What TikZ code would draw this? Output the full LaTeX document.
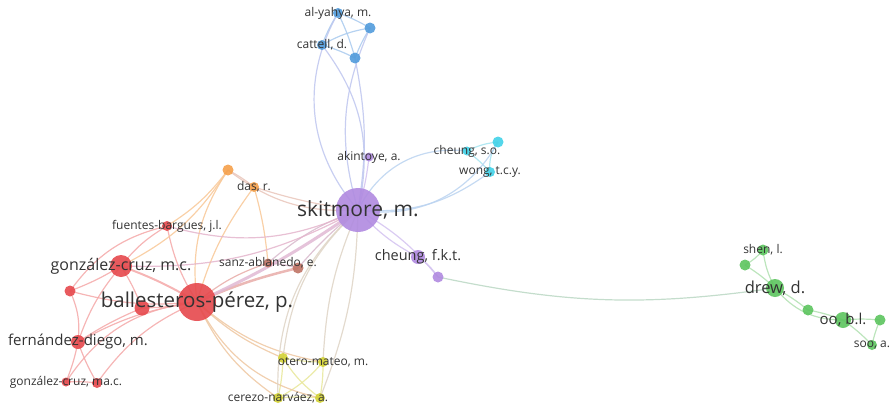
\documentclass[tikz,border=0pt]{standalone}
\usepackage{fontspec}
\setmainfont{Open Sans}
\usetikzlibrary{backgrounds}
\definecolor{txt}{HTML}{333333}
\definecolor{cblue}{HTML}{519BDB}
\definecolor{ccyan}{HTML}{41D2E8}
\definecolor{cpur}{HTML}{B08AE0}
\definecolor{cred}{HTML}{E6484C}
\definecolor{corg}{HTML}{F5A04A}
\definecolor{cbrn}{HTML}{BF7365}
\definecolor{cyel}{HTML}{D3D235}
\definecolor{cgrn}{HTML}{5CC45E}
\definecolor{eblue}{HTML}{A9CAEE}
\definecolor{ecyan}{HTML}{A3E4F0}
\definecolor{epur}{HTML}{D3C2F0}
\definecolor{ered}{HTML}{F4A8A8}
\definecolor{eorg}{HTML}{F8C898}
\definecolor{ebrn}{HTML}{DDB0A8}
\definecolor{eyel}{HTML}{E8E79A}
\definecolor{egrn}{HTML}{B0E0B0}
\tikzset{
  au/.style={circle,inner sep=0pt,minimum size=#1,opacity=.9},
  lb/.style={font=\fontsize{#1}{#1}\selectfont,text=txt,inner sep=0pt},
  ln/.style={draw=#1,opacity=.85,line width=1.2pt},
}
\begin{document}
\begin{tikzpicture}[x=1pt,y=-1pt]
\useasboundingbox (0,0) rectangle (894,407);
% authors
\node[au=44,fill=cpur] (sk) at (358,210) {};
\node[au=9,fill=cpur] (aky) at (369,157) {};
\node[au=14,fill=cpur] (cf) at (418,257) {};
\node[au=11,fill=cpur] (p2) at (438,277) {};
\node[au=10,fill=cblue] (aly) at (338,13) {};
\node[au=11,fill=cblue] (b2) at (370,28) {};
\node[au=10,fill=cblue] (cat) at (322,45) {};
\node[au=11,fill=cblue] (b4) at (355,58) {};
\node[au=9,fill=ccyan] (cso) at (467,151) {};
\node[au=11,fill=ccyan] (c2) at (498,142) {};
\node[au=10,fill=ccyan] (wg) at (490,172) {};
\node[au=10,fill=corg] (das) at (254,187) {};
\node[au=11,fill=corg] (o2) at (228,170) {};
\node[au=10,fill=cred] (fb) at (167,226) {};
\node[au=22,fill=cred] (gmc) at (121,266) {};
\node[au=11,fill=cred] (r3) at (70,291) {};
\node[au=38,fill=cred] (bp) at (197,302) {};
\node[au=15,fill=cred] (r5) at (142,308) {};
\node[au=14,fill=cred] (fd) at (78,342) {};
\node[au=9,fill=cred] (gma) at (66,382) {};
\node[au=10,fill=cred] (r8) at (97,383) {};
\node[au=9,fill=cbrn] (sa) at (268,263) {};
\node[au=11,fill=cbrn] (br2) at (298,268) {};
\node[au=10,fill=cyel] (om) at (323,362) {};
\node[au=10,fill=cyel] (y2) at (283,358) {};
\node[au=10,fill=cyel] (cn) at (278,398) {};
\node[au=10,fill=cyel] (y4) at (320,398) {};
\node[au=11,fill=cgrn] (sh) at (763,250) {};
\node[au=11,fill=cgrn] (g2) at (745,265) {};
\node[au=18,fill=cgrn] (dr) at (775,288) {};
\node[au=11,fill=cgrn] (g4) at (808,310) {};
\node[au=16,fill=cgrn] (oo) at (843,320) {};
\node[au=11,fill=cgrn] (g6) at (880,320) {};
\node[au=10,fill=cgrn] (soo) at (872,345) {};
% links
\begin{scope}[on background layer]
\foreach \a/\b/\c in {aly/b2/5,aly/cat/-5,aly/b4/5,cat/b2/10,cat/b4/5,b2/b4/-5}
  \draw[ln=eblue] (\a.center) to[bend left=\c] (\b.center);
\foreach \a/\b/\c in {aly/sk/-35,b2/sk/-20,cat/sk/25,b4/sk/10}
  \draw[ln=eblue!50!epur] (\a.center) to[bend left=\c] (\b.center);
\foreach \a/\b/\c in {cso/c2/10,cso/wg/5,c2/wg/-20}
  \draw[ln=ecyan] (\a.center) to[bend left=\c] (\b.center);
\foreach \a/\b/\c in {cso/sk/-35,c2/sk/35,wg/sk/20}
  \draw[ln=ecyan!50!epur] (\a.center) to[bend left=\c] (\b.center);
\foreach \a/\b/\c in {aky/sk/5,sk/cf/-10,sk/p2/10,cf/p2/10}
  \draw[ln=epur] (\a.center) to[bend left=\c] (\b.center);
\draw[ln=egrn!70!epur] (p2.center) to[bend right=10] (dr.center);
\foreach \a/\b/\c in {sh/g2/10,sh/dr/-10,g2/dr/5,dr/g4/5,g4/oo/5,dr/oo/-25,oo/g6/5,oo/soo/5,g6/soo/-5}
  \draw[ln=egrn] (\a.center) to[bend left=\c] (\b.center);
\foreach \a/\b/\c in {bp/fb/10,bp/r3/10,bp/r5/5,bp/fd/-10,bp/gma/-25,bp/r8/-15,gmc/fb/10,gmc/r3/5,gmc/r5/5,gmc/fd/-10,r3/fd/15,fd/gma/5,fd/r8/-5,fd/r5/5,gma/r8/5,fb/r3/-20}
  \draw[ln=ered] (\a.center) to[bend left=\c] (\b.center);
\draw[ln=ered,line width=2pt] (bp.center) to[bend right=5] (gmc.center);
\draw[ln=ered!50!ebrn] (bp.center) to[bend left=10] (sa.center);
\draw[ln=ered!50!ebrn,line width=2.5pt] (bp.center) to[bend left=5] (br2.center);
\foreach \a/\b/\c in {sa/br2/5,sa/sk/10,br2/sk/5}
  \draw[ln=ebrn!50!epur] (\a.center) to[bend left=\c] (\b.center);
\foreach \a/\b/\c in {o2/das/5,das/sk/-5,o2/sk/-20}
  \draw[ln=eorg!60!epur] (\a.center) to[bend left=\c] (\b.center);
\foreach \a/\b/\c in {o2/bp/-20,o2/gmc/15,das/bp/-10,das/sa/5,o2/fb/10}
  \draw[ln=eorg] (\a.center) to[bend left=\c] (\b.center);
\draw[ln=ered!40!epur,line width=3pt] (bp.center) to[bend right=5] (sk.center);
\foreach \a/\b/\c in {fb/sk/20,gmc/sk/15}
  \draw[ln=ered!50!epur] (\a.center) to[bend right=\c] (\b.center);
\foreach \a/\b/\c in {om/y2/5,om/cn/10,om/y4/5,y2/cn/5,y2/y4/-10,cn/y4/5}
  \draw[ln=eyel] (\a.center) to[bend left=\c] (\b.center);
\foreach \a/\b/\c in {bp/om/15,bp/y2/10,bp/cn/15,bp/y4/25}
  \draw[ln=eyel!50!ered] (\a.center) to[bend right=\c] (\b.center);
\foreach \a/\b/\c in {sk/om/10,sk/y2/20,sk/cn/25,sk/y4/-10}
  \draw[ln=eyel!50!epur] (\a.center) to[bend right=\c] (\b.center);
\end{scope}
% labels
\node[lb=21] at (sk) {skitmore, m.};
\node[lb=12] at (aky) {akintoye, a.};
\node[lb=14.5] at (cf) {cheung, f.k.t.};
\node[lb=12] at (aly) {al-yahya, m.};
\node[lb=12] at (cat) {cattell, d.};
\node[lb=12] at (cso) {cheung, s.o.};
\node[lb=12] at (wg) {wong, t.c.y.};
\node[lb=12] at (das) {das, r.};
\node[lb=12] at (fb) {fuentes-bargues, j.l.};
\node[lb=16] at (gmc) {gonzález-cruz, m.c.};
\node[lb=20.5] at (bp) {ballesteros-pérez, p.};
\node[lb=15] at (fd) {fernández-diego, m.};
\node[lb=12] at (gma) {gonzález-cruz, ma.c.};
\node[lb=12] at (sa) {sanz-ablanedo, e.};
\node[lb=12] at (om) {otero-mateo, m.};
\node[lb=12] at (cn) {cerezo-narváez, a.};
\node[lb=12] at (sh) {shen, l.};
\node[lb=16.5] at (dr) {drew, d.};
\node[lb=15] at (oo) {oo, b.l.};
\node[lb=12] at (soo) {soo, a.};
\end{tikzpicture}
\end{document}
